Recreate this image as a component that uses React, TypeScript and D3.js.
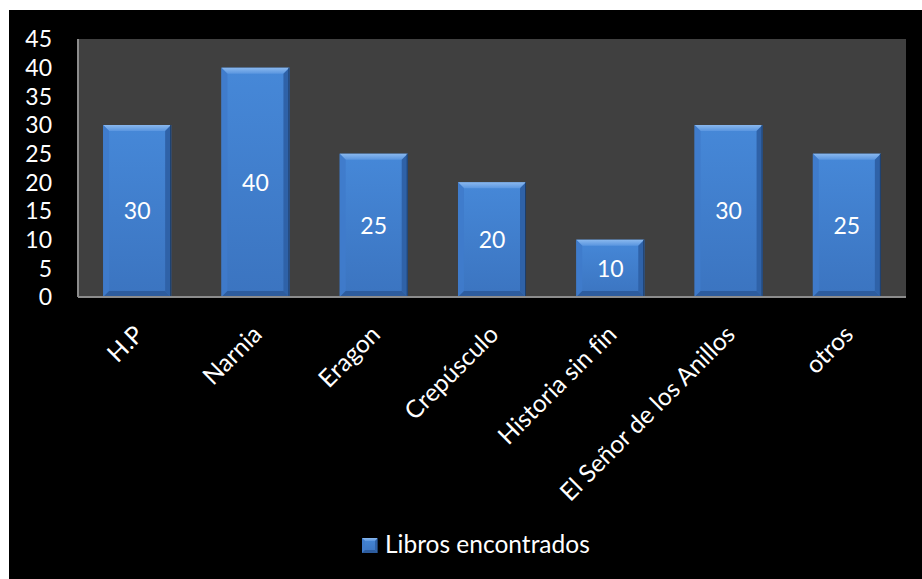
import React from "react";
import * as d3 from "d3";

const categories = ["H.P", "Narnia", "Eragon", "Crepúsculo", "Historia sin fin", "El Señor de los Anillos", "otros"];
const values = [30, 40, 25, 20, 10, 30, 25];
const yTicks = [0, 5, 10, 15, 20, 25, 30, 35, 40, 45];
const seriesName = "Libros encontrados";

const W = 922;
const H = 579;
const plot = { left: 78, right: 906, top: 39, bottom: 297 };
const FONT = "Lato, 'Open Sans', sans-serif";

function Bar({ x, y, w, h, b }: { x: number; y: number; w: number; h: number; b: number }) {
  const bb = Math.min(b, h / 2, w / 2);
  const pts = (a: number[][]) => a.map((p) => p.join(",")).join(" ");
  return (
    <g>
      <rect x={x} y={y} width={w} height={h} fill="url(#barFill)" />
      <polygon points={pts([[x, y], [x + w, y], [x + w - bb, y + bb], [x + bb, y + bb]])} fill="url(#bevelTop)" />
      <polygon points={pts([[x, y], [x + bb, y + bb], [x + bb, y + h - bb], [x, y + h]])} fill="#3f7bcb" opacity={0.9} />
      <polygon points={pts([[x + w, y], [x + w - bb, y + bb], [x + w - bb, y + h - bb], [x + w, y + h]])} fill="#2f62a8" />
      <polygon points={pts([[x, y + h], [x + bb, y + h - bb], [x + w - bb, y + h - bb], [x + w, y + h]])} fill="#2d5c9e" />
      <line x1={x + w - 0.5} x2={x + w - 0.5} y1={y} y2={y + h} stroke="#1d3d68" strokeWidth={1} />
    </g>
  );
}

export default function App() {
  const x = d3
    .scaleBand<string>()
    .domain(categories)
    .range([plot.left, plot.right])
    .paddingInner(0.425)
    .paddingOuter(0.2125);
  const y = d3.scaleLinear().domain([0, 45]).range([plot.bottom, plot.top]);
  const bw = x.bandwidth();

  return (
    <svg width={W} height={H} style={{ position: "absolute", left: 0, top: 0, fontVariantLigatures: "none" }}>
      <defs>
        <linearGradient id="barFill" x1="0" y1="0" x2="0" y2="1">
          <stop offset="0" stopColor="#4688d8" />
          <stop offset="1" stopColor="#3b74c0" />
        </linearGradient>
        <linearGradient id="bevelTop" x1="0" y1="0" x2="0" y2="1">
          <stop offset="0" stopColor="#8ab8ee" />
          <stop offset="1" stopColor="#5a96e0" />
        </linearGradient>
      </defs>
      <rect x={0} y={0} width={W} height={H} fill="#ffffff" />
      <rect x={9} y={10} width={W - 9} height={H - 10} fill="#000000" />
      <rect
        x={plot.left}
        y={plot.top}
        width={plot.right - plot.left}
        height={plot.bottom - plot.top}
        fill="#404040"
      />
      {categories.map((c, i) => {
        const bx = x(c)!;
        const by = y(values[i]);
        const bh = y(0) - by;
        return <Bar key={c} x={bx} y={by} w={bw} h={bh} b={6} />;
      })}
      <line x1={plot.left} x2={plot.left} y1={plot.top} y2={plot.bottom} stroke="#8c8c8c" strokeWidth={2} />
      <line x1={plot.left} x2={plot.right} y1={plot.bottom} y2={plot.bottom} stroke="#8c8c8c" strokeWidth={2} />
      {yTicks.map((t) => (
        <text
          key={t}
          x={52}
          y={y(t)}
          dy="0.36em"
          textAnchor="end"
          fill="#ffffff"
          fontFamily={FONT}
          fontSize={23}
        >
          {t}
        </text>
      ))}
      {categories.map((c, i) => {
        const cx = x(c)! + bw / 2;
        const cy = (y(values[i]) + y(0)) / 2;
        return (
          <text
            key={"v" + c}
            x={cx}
            y={cy}
            dy="0.36em"
            textAnchor="middle"
            fill="#ffffff"
            fontFamily={FONT}
            fontSize={23}
          >
            {values[i]}
          </text>
        );
      })}
      {categories.map((c) => {
        const cx = x(c)! + bw / 2;
        return (
          <text
            key={"l" + c}
            transform={`translate(${cx + 8},${336}) rotate(-45)`}
            textAnchor="end"
            fill="#ffffff"
            fontFamily={FONT}
            fontSize={24.5}
          >
            {c}
          </text>
        );
      })}
      <g>
        <Bar x={362} y={538} w={16} h={15} b={3} />
        <text x={385} y={553} fill="#ffffff" fontFamily={FONT} fontSize={24.5}>
          {seriesName}
        </text>
      </g>
    </svg>
  );
}
